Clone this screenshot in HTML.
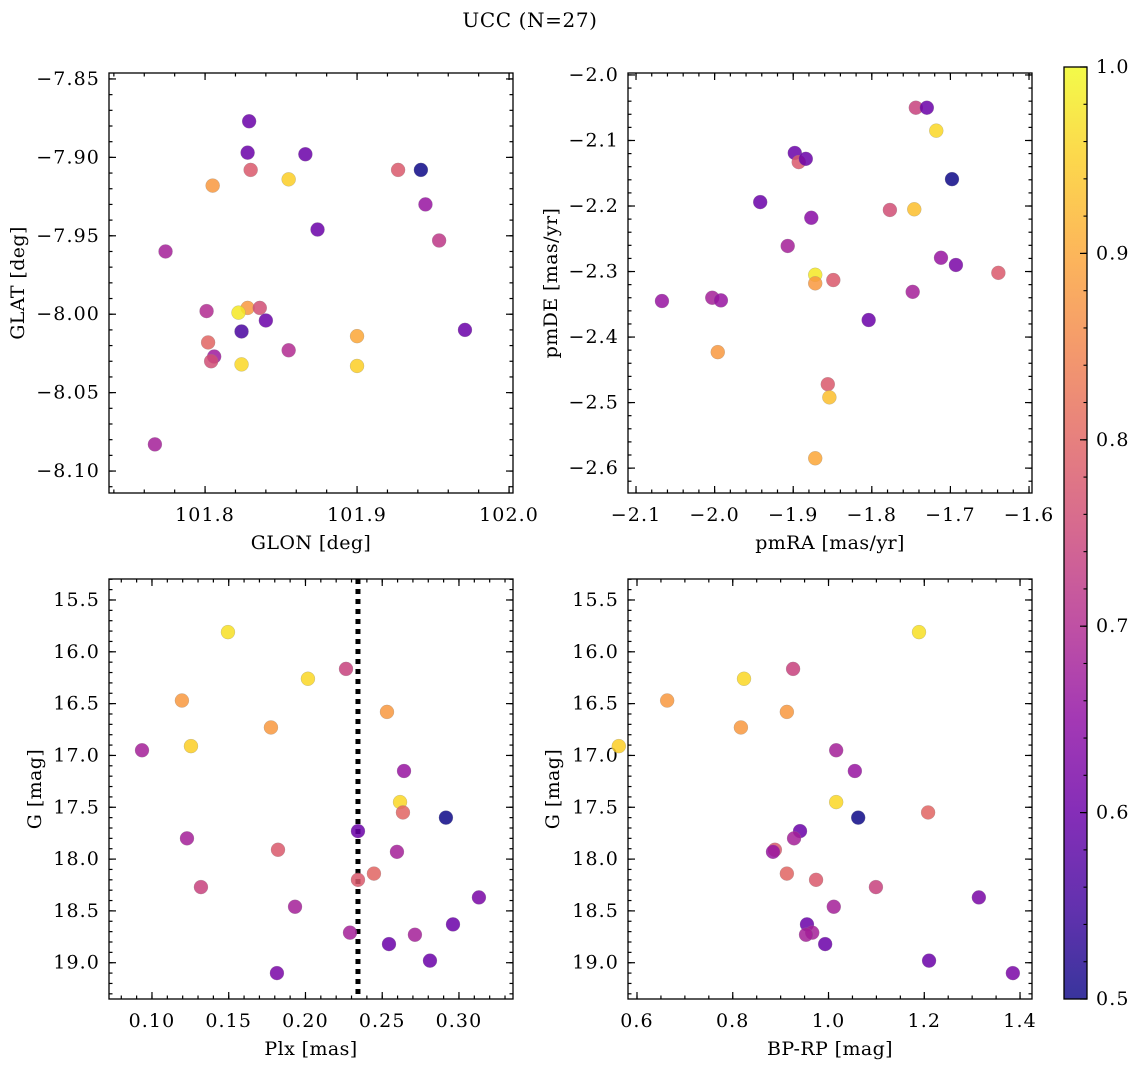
<!DOCTYPE html>
<html><head><meta charset="utf-8"><style>
html,body{margin:0;padding:0;background:#fff;}
svg{display:block;font-family:"DejaVu Serif","Liberation Serif",serif;}
</style></head><body>
<svg id="fig" width="1136" height="1067" viewBox="0 0 1136 1067" xmlns="http://www.w3.org/2000/svg">
<defs>
<linearGradient id="plasma" x1="0" y1="1" x2="0" y2="0">
<stop offset="0" stop-color="#0d0887"/><stop offset="0.1" stop-color="#41049d"/><stop offset="0.2" stop-color="#6a00a8"/><stop offset="0.3" stop-color="#8f0da4"/><stop offset="0.4" stop-color="#b12a90"/><stop offset="0.5" stop-color="#cc4778"/><stop offset="0.6" stop-color="#e16462"/><stop offset="0.7" stop-color="#f2844b"/><stop offset="0.8" stop-color="#fca636"/><stop offset="0.9" stop-color="#fcce25"/><stop offset="1" stop-color="#f0f921"/>
</linearGradient>
</defs>
<text x="530" y="27" font-size="20" letter-spacing="0.6" text-anchor="middle">UCC (N=27)</text>
</svg>
<script>
// Panel 1: GLON vs GLAT
const glonX = [101.829,101.828,101.866,101.830,101.805,101.855,101.927,101.942,101.945,101.874,101.954,101.774,101.801,101.828,101.836,101.822,101.840,101.824,101.900,101.971,101.802,101.806,101.804,101.855,101.824,101.900,101.767];
const glatY = [-7.877,-7.897,-7.898,-7.908,-7.918,-7.914,-7.908,-7.908,-7.930,-7.946,-7.953,-7.960,-7.998,-7.996,-7.996,-7.999,-8.004,-8.011,-8.014,-8.010,-8.018,-8.027,-8.030,-8.023,-8.032,-8.033,-8.083];
const glonC = [0.6,0.6,0.6,0.78,0.88,0.95,0.78,0.5,0.66,0.6,0.72,0.68,0.7,0.88,0.76,0.98,0.6,0.56,0.9,0.6,0.8,0.67,0.76,0.7,0.96,0.95,0.68];
// Panel 2: pmRA vs pmDE
const pmraX = [-2.067,-2.003,-1.992,-1.996,-1.942,-1.907,-1.898,-1.893,-1.884,-1.877,-1.872,-1.872,-1.872,-1.849,-1.804,-1.856,-1.854,-1.777,-1.744,-1.730,-1.718,-1.746,-1.748,-1.712,-1.693,-1.698,-1.639];
const pmdeY = [-2.345,-2.340,-2.344,-2.423,-2.194,-2.261,-2.119,-2.133,-2.128,-2.218,-2.305,-2.318,-2.585,-2.313,-2.374,-2.472,-2.492,-2.206,-2.050,-2.050,-2.085,-2.205,-2.331,-2.279,-2.290,-2.159,-2.302];
const pmC = [0.66,0.68,0.66,0.88,0.6,0.68,0.6,0.78,0.6,0.64,0.98,0.88,0.9,0.78,0.6,0.78,0.93,0.76,0.74,0.6,0.96,0.93,0.68,0.66,0.62,0.5,0.78];
// Panel 3: Plx vs G
const plxX = [0.1495,0.2264,0.2016,0.1195,0.2531,0.1775,0.1254,0.0935,0.2642,0.2616,0.2635,0.2915,0.2342,0.1228,0.1821,0.2596,0.2446,0.2342,0.1319,0.1932,0.3130,0.2961,0.2290,0.2713,0.2544,0.2811,0.1814];
const gY = [15.81,16.165,16.26,16.47,16.58,16.73,16.91,16.95,17.15,17.45,17.55,17.60,17.73,17.80,17.91,17.93,18.14,18.20,18.27,18.46,18.37,18.63,18.71,18.73,18.82,18.98,19.10];
const plxC = [0.97,0.74,0.96,0.88,0.88,0.88,0.95,0.68,0.66,0.96,0.8,0.5,0.6,0.68,0.78,0.68,0.8,0.78,0.74,0.68,0.62,0.6,0.68,0.68,0.6,0.6,0.62];
const plxLine = 0.2342;
// Panel 4: BP-RP vs G
const bprpX = [1.189,0.926,0.8235,0.663,0.913,0.817,0.562,1.016,1.055,1.016,1.208,1.062,0.9405,0.928,0.888,0.884,0.913,0.974,1.099,1.011,1.314,0.955,0.966,0.953,0.993,1.210,1.385];
const g4Y = [15.81,16.165,16.26,16.47,16.58,16.73,16.91,16.95,17.15,17.45,17.55,17.60,17.73,17.80,17.91,17.93,18.14,18.20,18.27,18.46,18.37,18.63,18.71,18.73,18.82,18.98,19.10];
const bprpC = [0.97,0.74,0.96,0.88,0.88,0.88,0.95,0.68,0.66,0.96,0.8,0.5,0.6,0.68,0.78,0.66,0.8,0.78,0.74,0.68,0.62,0.6,0.68,0.68,0.6,0.6,0.62];
// Colorbar ticks
const cbTicks = [0.5,0.6,0.7,0.8,0.9,1.0];

const NS='http://www.w3.org/2000/svg';
const svg=document.getElementById('fig');
const stops=[[13,8,135],[65,4,157],[106,0,168],[143,13,164],[177,42,144],[204,71,120],[225,100,98],[242,132,75],[252,166,54],[252,206,37],[240,249,33]];
function plasma(c){let t=Math.max(0,Math.min(1,(c-0.5)/0.5))*10;let i=Math.min(9,Math.floor(t));let f=t-i;const a=stops[i],b=stops[i+1];return 'rgb('+a.map((v,k)=>Math.round(v+(b[k]-v)*f)).join(',')+')';}
function el(tag,attrs,parent){const e=document.createElementNS(NS,tag);for(const k in attrs)e.setAttribute(k,attrs[k]);(parent||svg).appendChild(e);return e;}
function fmt(v,d){let s=v.toFixed(d);return s.replace('-','\u2212');}
const FS=19, LS=1.1, TFS=19, TLS=0.4;

function panel(cfg){
  const g=el('g',{});
  
  
  const L=cfg.L,T=cfg.T,R=cfg.R,B=cfg.B;
  const sx=v=>L+(v-cfg.x0)/(cfg.x1-cfg.x0)*(R-L);
  const sy=v=>T+(v-cfg.y0)/(cfg.y1-cfg.y0)*(B-T);
  const tg=el('g',{stroke:'#000','stroke-width':1.2},g);
  function ticksX(step,len,labels,dec){
    const lo=Math.min(cfg.x0,cfg.x1),hi=Math.max(cfg.x0,cfg.x1);
    for(let k=Math.ceil(lo/step-1e-6);k*step<=hi+1e-9;k++){const v=k*step;const x=sx(v);
      el('line',{x1:x,y1:B,x2:x,y2:B-len},tg);el('line',{x1:x,y1:T,x2:x,y2:T+len},tg);
      if(labels){const t=el('text',{x:x,y:B+28,'font-size':FS,'letter-spacing':LS,'text-anchor':'middle'},g);t.textContent=fmt(v,dec);
        }}
  }
  function ticksY(step,len,labels,dec){
    const lo=Math.min(cfg.y0,cfg.y1),hi=Math.max(cfg.y0,cfg.y1);
    for(let k=Math.ceil(lo/step-1e-6);k*step<=hi+1e-9;k++){const v=k*step;const y=sy(v);
      el('line',{x1:L,y1:y,x2:L+len,y2:y},tg);el('line',{x1:R,y1:y,x2:R-len,y2:y},tg);
      if(labels){const t=el('text',{x:L-9,y:y+6,'font-size':FS,'letter-spacing':LS,'text-anchor':'end'},g);t.textContent=fmt(v,dec);
        }}
  }
  ticksX(cfg.xmin,3.5,false);ticksX(cfg.xmaj,7,true,cfg.xd);
  ticksY(cfg.ymin,3.5,false);ticksY(cfg.ymaj,7,true,cfg.yd);
  if(cfg.vline!==undefined){const vl=el('line',{x1:sx(cfg.vline),x2:sx(cfg.vline),y1:T,y2:B,stroke:'#000','stroke-width':5,'stroke-dasharray':'5,5'},g);
    }
  for(let i=0;i<cfg.xs.length;i++){
    const c=el('circle',{cx:sx(cfg.xs[i]),cy:sy(cfg.ys[i]),r:7,fill:plasma(cfg.cs[i]),'fill-opacity':0.85,stroke:'#888','stroke-width':0.4,'stroke-opacity':0.6},g);
    
    
  }
  const fr=el('rect',{x:L,y:T,width:R-L,height:B-T,fill:'none',stroke:'#000','stroke-width':1.3},g);
  
  const xl=el('text',{x:(L+R)/2,y:B+56,'font-size':TFS,'letter-spacing':TLS,'text-anchor':'middle'},g);xl.textContent=cfg.xlabel;
  
  const yx=cfg.ylx,yy=(T+B)/2;
  const yl=el('text',{x:yx,y:yy,'font-size':TFS,'letter-spacing':TLS,'text-anchor':'middle',transform:'rotate(-90 '+yx+' '+yy+')'},g);yl.textContent=cfg.ylabel;
  
}

panel({name:'glon-glat-panel',L:109,T:73,R:513,B:493,x0:101.7368,x1:102.0026,y0:-7.8462,y1:-8.114,
  xmaj:0.1,xmin:0.02,xd:1,ymaj:0.05,ymin:0.01,yd:2,xs:glonX,ys:glatY,cs:glonC,xlabel:'GLON [deg]',ylabel:'GLAT [deg]',ylx:24});
panel({name:'pm-panel',L:628,T:73,R:1032,B:493,x0:-2.1102,x1:-1.5962,y0:-1.997,y1:-2.638,
  xmaj:0.1,xmin:0.02,xd:1,ymaj:0.1,ymin:0.02,yd:1,xs:pmraX,ys:pmdeY,cs:pmC,xlabel:'pmRA [mas/yr]',ylabel:'pmDE [mas/yr]',ylx:557});
panel({name:'plx-g-panel',L:109,T:579,R:513,B:999,x0:0.072,x1:0.3352,y0:15.2975,y1:19.35,
  xmaj:0.05,xmin:0.01,xd:2,ymaj:0.5,ymin:0.1,yd:1,xs:plxX,ys:gY,cs:plxC,vline:plxLine,xlabel:'Plx [mas]',ylabel:'G [mag]',ylx:41});
panel({name:'color-magnitude-panel',L:628,T:579,R:1032,B:999,x0:0.5812,x1:1.425,y0:15.2975,y1:19.35,
  xmaj:0.2,xmin:0.05,xd:1,ymaj:0.5,ymin:0.1,yd:1,xs:bprpX,ys:g4Y,cs:bprpC,xlabel:'BP-RP [mag]',ylabel:'G [mag]',ylx:559});

const cb=el('g',{});


const cT=67,cB=999,cL=1064,cR=1087;
el('rect',{x:cL,y:cT,width:cR-cL,height:cB-cT,fill:'url(#plasma)','fill-opacity':0.82},cb);
el('rect',{x:cL,y:cT,width:cR-cL,height:cB-cT,fill:'none',stroke:'#000','stroke-width':1.3},cb);
const cy=v=>cB-(v-0.5)/0.5*(cB-cT);
for(let k=0;k<=25;k++){const v=0.5+k*0.02;el('line',{x1:cR,x2:cR-3.5,y1:cy(v),y2:cy(v),stroke:'#000','stroke-width':1.1},cb);}
cbTicks.forEach(v=>{el('line',{x1:cR,x2:cR-7,y1:cy(v),y2:cy(v),stroke:'#000','stroke-width':1.2},cb);
  const t=el('text',{x:cR+9,y:cy(v)+6,'font-size':FS,'letter-spacing':LS},cb);t.textContent=v.toFixed(1);
  
  });
</script>
</body></html>
